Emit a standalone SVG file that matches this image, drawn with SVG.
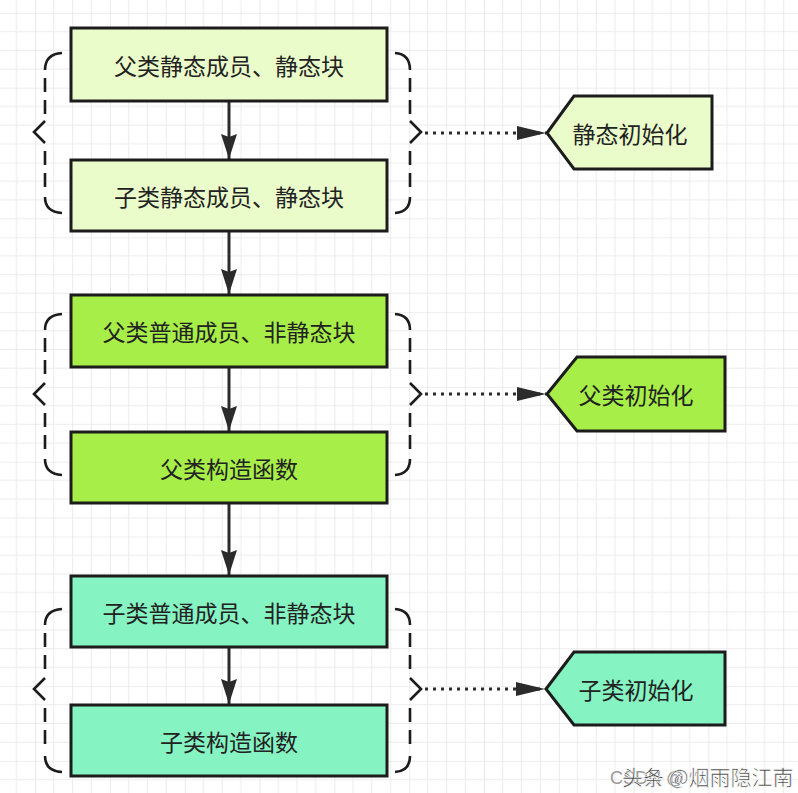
<svg xmlns="http://www.w3.org/2000/svg" width="798" height="793" viewBox="0 0 798 793">
<defs>
<pattern id="grid" patternUnits="userSpaceOnUse" x="35.2" y="12.9" width="74.8" height="74.8">
<path d="M18.7 0V74.8M37.4 0V74.8M56.1 0V74.8M0 18.7H74.8M0 37.4H74.8M0 56.1H74.8" stroke="#ececec" stroke-width="1" fill="none"/>
<path d="M0 0V74.8M0 0H74.8" stroke="#dedede" stroke-width="1.2" fill="none"/>
</pattern>
<marker id="arr" markerUnits="userSpaceOnUse" markerWidth="26" markerHeight="18" viewBox="0 0 26 18" refX="25" refY="9" orient="auto">
<path d="M0 1 L25 9 L0 17 L3 9 Z" fill="#2b2b2b"/>
</marker>
<marker id="arr2" markerUnits="userSpaceOnUse" markerWidth="30" markerHeight="16" viewBox="0 0 30 16" refX="29" refY="8" orient="auto">
<path d="M0 1 L29 8 L0 15 Z" fill="#2b2b2b"/>
</marker>
</defs>
<style>
.box{stroke:#1c1c1c;stroke-width:3}
.c1{fill:#ebfccb}
.c2{fill:#a7ee48}
.c3{fill:#86f3c2}
.t{font-family:"Noto Sans CJK SC","Noto Sans",sans-serif;font-size:23px;fill:#222;text-anchor:middle;dominant-baseline:central}
.bs{fill:none;stroke:#1c1c1c;stroke-width:2.6;stroke-linecap:butt}
.bd{fill:none;stroke:#1c1c1c;stroke-width:2.6;stroke-dasharray:14 8}
.flow{stroke:#2b2b2b;stroke-width:3;fill:none;marker-end:url(#arr)}
.dot{stroke:#2b2b2b;stroke-width:3;fill:none;stroke-dasharray:3 5;marker-end:url(#arr2)}
</style>
<rect width="798" height="793" fill="#ffffff"/>
<rect width="798" height="793" fill="url(#grid)"/>

<g id="connectors">
<line class="flow" x1="229" y1="102" x2="229" y2="159"/>
<line class="flow" x1="229" y1="232" x2="229" y2="294"/>
<line class="flow" x1="229" y1="368" x2="229" y2="431"/>
<line class="flow" x1="229" y1="504" x2="229" y2="575"/>
<line class="flow" x1="229" y1="648" x2="229" y2="704"/>
<line class="dot" x1="425" y1="133" x2="546" y2="133"/>
<line class="dot" x1="425" y1="394" x2="546" y2="394"/>
<line class="dot" x1="425" y1="689" x2="545" y2="689"/>
</g>

<g id="brace-static">
<path class="bs" d="M62 53 Q45 54 45 70M45 121 L34 132 L45 143M45 197 Q45 212 62 213"/>
<path class="bd" d="M45 78 V114M45 151 V190"/>
<path class="bs" d="M395 53 Q410 54 410 70M410 121 L421 132 L410 143M410 197 Q410 212 395 213"/>
<path class="bd" d="M410 78 V114M410 151 V190"/>
</g>
<g id="brace-parent">
<path class="bs" d="M62 314 Q45 315 45 330M45 383 L34 394 L45 405M45 459 Q45 474 62 475"/>
<path class="bd" d="M45 338 V376M45 413 V452"/>
<path class="bs" d="M395 314 Q410 315 410 330M410 383 L421 394 L410 405M410 459 Q410 474 395 475"/>
<path class="bd" d="M410 338 V376M410 413 V452"/>
</g>
<g id="brace-child">
<path class="bs" d="M62 609 Q45 610 45 625M45 678 L34 689 L45 700M45 756 Q45 771 62 772"/>
<path class="bd" d="M45 633 V671M45 708 V749"/>
<path class="bs" d="M395 609 Q410 610 410 625M410 678 L421 689 L410 700M410 756 Q410 771 395 772"/>
<path class="bd" d="M410 633 V671M410 708 V749"/>
</g>

<g id="n1"><rect class="box c1" x="71" y="28" width="316" height="73"/><text class="t" x="229" y="65">父类静态成员、静态块</text></g>
<g id="n2"><rect class="box c1" x="71" y="160" width="316" height="71"/><text class="t" x="229" y="196">子类静态成员、静态块</text></g>
<g id="n3"><rect class="box c2" x="71" y="295" width="316" height="72"/><text class="t" x="229" y="331">父类普通成员、非静态块</text></g>
<g id="n4"><rect class="box c2" x="71" y="432" width="316" height="71"/><text class="t" x="229" y="468">父类构造函数</text></g>
<g id="n5"><rect class="box c3" x="71" y="576" width="316" height="71"/><text class="t" x="229" y="612">子类普通成员、非静态块</text></g>
<g id="n6"><rect class="box c3" x="71" y="705" width="316" height="71"/><text class="t" x="229" y="741">子类构造函数</text></g>

<g id="p1"><path class="box c1" d="M547 133 L574 96 L712 96 L712 169 L574 169 Z"/><text class="t" x="630" y="133">静态初始化</text></g>
<g id="p2"><path class="box c2" d="M547 394 L577 357 L725 357 L725 431 L577 431 Z"/><text class="t" x="636" y="394">父类初始化</text></g>
<g id="p3"><path class="box c3" d="M546 689 L574 652 L725 652 L725 725 L574 725 Z"/><text class="t" x="636" y="689">子类初始化</text></g>

<g id="watermark">
<text x="610" y="784" font-family="Liberation Sans,sans-serif" font-size="18" fill="#9a9a9a">CSDN @</text>
<text x="622" y="785" font-family="Noto Sans CJK SC,sans-serif" font-size="21" fill="#3a3a3a" stroke="#ffffff" stroke-width="0.6">头条 @烟雨隐江南</text>
</g>
</svg>
